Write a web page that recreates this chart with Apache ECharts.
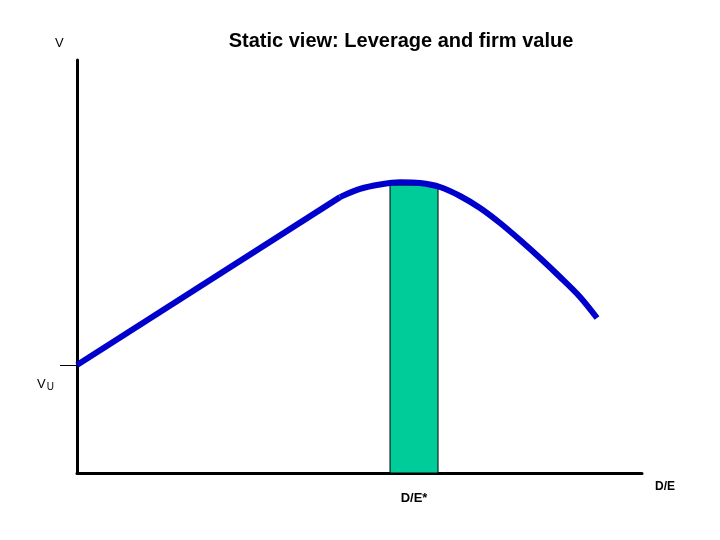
<!DOCTYPE html>
<html><head><meta charset="utf-8">
<script src="https://cdn.jsdelivr.net/npm/echarts@6/dist/echarts.min.js"></script>
<style>html,body{margin:0;padding:0;background:#fff}#c{width:720px;height:540px}</style>
</head><body><div id="c"></div>
<script>
// Firm value V as a function of D/E: straight (tax-shield) part, then curved part
const linearX = [0, 0.4655];
const linearY = [0.2615, 0.668];
const curveX = [0.4655, 0.5009, 0.5363, 0.5717, 0.6071, 0.6425, 0.6779, 0.7133, 0.7487, 0.7841, 0.8195, 0.8549, 0.8903, 0.9204];
const curveY = [0.668, 0.6877, 0.6985, 0.7039, 0.7022, 0.6925, 0.6707, 0.6416, 0.6053, 0.5642, 0.5206, 0.4746, 0.4262, 0.3753];
// Optimal D/E band: [left, right, top]
const optimalBand = [[0.554, 0.639, 0.697]];
const optimalLabelX = [0.5965];
const unleveredValue = [0.2615];

const chart = echarts.init(document.getElementById('c'));
const F = '"Liberation Sans", Arial, sans-serif';
const lineStyle = {color: '#0000CC', width: 6, cap: 'butt', join: 'round'};
chart.setOption({
  animation: false,
  backgroundColor: '#fff',
  grid: {left: 77, right: 78, top: 60, bottom: 67},
  xAxis: {
    type: 'value', min: 0, max: 1,
    axisLine: {show: true, onZero: false, lineStyle: {color: '#000', width: 3}},
    axisTick: {show: false},
    splitLine: {show: false},
    axisLabel: {
      show: true, customValues: optimalLabelX, formatter: () => 'D/E*', margin: 19,
      fontFamily: F, fontSize: 13, fontWeight: 'bold', color: '#000'
    }
  },
  yAxis: {
    type: 'value', min: 0, max: 1,
    axisLine: {show: true, onZero: false, lineStyle: {color: '#000', width: 3}},
    axisTick: {show: true, customValues: unleveredValue, length: 17, lineStyle: {color: '#000', width: 1}},
    splitLine: {show: false},
    axisLabel: {show: false}
  },
  graphic: [
    {type: 'text', x: 401, y: 41, z: 10, style: {text: 'Static view: Leverage and firm value',
      font: 'bold 20px ' + F, fill: '#000', align: 'center', verticalAlign: 'middle'}},
    {type: 'text', left: 55, top: 37, style: {text: 'V', font: '13px ' + F, fill: '#000'}},
    {type: 'text', left: 37, top: 378, style: {text: 'V{s|U}', font: '13px ' + F, fill: '#000',
      rich: {s: {fontSize: 10, fontFamily: F, padding: [6, 0, 0, 1]}}}},
    {type: 'text', left: 655, top: 481, style: {text: 'D/E', font: 'bold 12px ' + F, fill: '#000'}}
  ],
  series: [
    {
      type: 'custom', z: 1,
      data: optimalBand,
      encode: {x: [0, 1], y: 2},
      renderItem: (params, api) => {
        const p0 = api.coord([api.value(0), api.value(2)]);
        const p1 = api.coord([api.value(1), 0]);
        return {type: 'rect', shape: {x: p0[0], y: p0[1], width: p1[0] - p0[0], height: p1[1] - p0[1]},
          style: {fill: '#00CC99', stroke: '#000', lineWidth: 1}};
      }
    },
    {
      type: 'line', z: 3, symbol: 'none', smooth: false,
      data: linearX.map((x, i) => [x, linearY[i]]),
      lineStyle: lineStyle
    },
    {
      type: 'line', z: 3, symbol: 'none', smooth: 0.3,
      data: curveX.map((x, i) => [x, curveY[i]]),
      lineStyle: lineStyle
    }
  ]
});
</script></body></html>
